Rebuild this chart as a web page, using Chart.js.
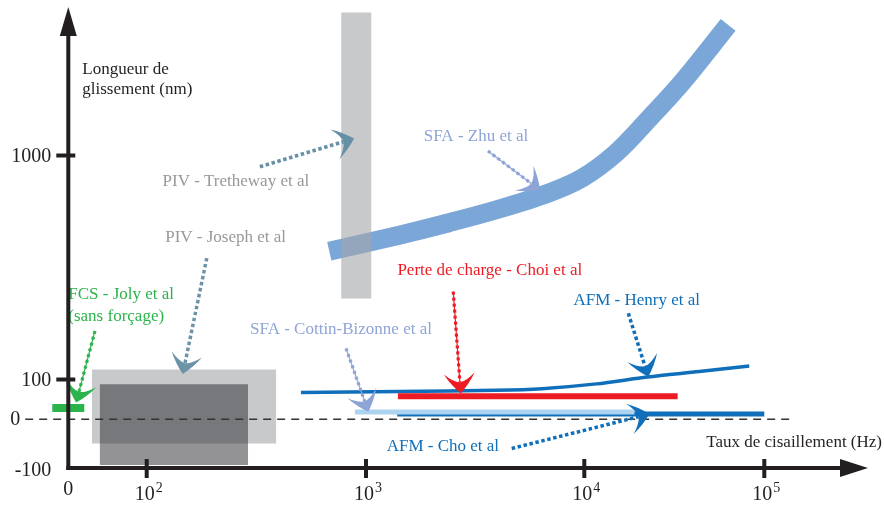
<!DOCTYPE html>
<html>
<head>
<meta charset="utf-8">
<script src="https://cdn.jsdelivr.net/npm/chart.js@4.4.1/dist/chart.umd.min.js"></script>
<style>
html,body{margin:0;padding:0;background:#fff;}
#wrap{width:884px;height:509px;position:relative;}
</style>
</head>
<body>
<div id="wrap"><canvas id="c" width="884" height="509"></canvas></div>
<script>
// ---------------- data (shear rate in Hz, slip length in nm) ----------------
const xTickValues = [0, 100, 1000, 10000, 100000];
const xTickLabels = ['0', '10^2', '10^3', '10^4', '10^5'];
const yTickValues = [-100, 0, 100, 1000];
const yTickLabels = ['-100', '0', '100', '1000'];
const yTickMarks = [100, 1000];
const xTickMarks = [100, 1000, 10000, 100000];

const zhuX = [680, 1420, 2400, 4070, 6900, 9800, 15000, 23000, 35000, 63000];
const zhuY = [615, 680, 730, 785, 850, 910, 1010, 1150, 1295, 1525];
const henryX = [505, 1420, 3950, 6400, 11700, 22400, 43500, 82500];
const henryY = [67, 70, 73, 77, 89, 110, 132, 154];
const choiX = [1400, 33000];
const choiY = [58, 58];
const choX = [1390, 100000];
const choY = [13, 13];
const cottinX = [890, 19000];
const cottinY = [18, 18];
const jolyX = [0];
const jolyY = [28];
const trethewayX = [770, 1060];   // rate range
const trethewayY = [425, 1575];   // slip range
const josephOuterX = [30, 390];
const josephOuterY = [-50, 140];
const josephInnerX = [40, 290];
const josephInnerY = [-94, 88];
const zeroLineX = [-55, 148000];
const zeroLineY = [0, 0];

const xTitle = 'Taux de cisaillement (Hz)';
const yTitle = ['Longueur de', 'glissement (nm)'];

const GREY = '#97989a', LAV = '#8fa4d6', GREEN = '#2cb34b', RED = '#ed1c24', BLUE = '#0f6fba';
const notes = [
  {lines: ['PIV - Tretheway et al'], at: [255, 895], color: GREY,
   arrow: {from: [328, 955], to: [882, 1068], color: '#6690a5', thread: false}},
  {lines: ['SFA - Zhu et al'], at: [3190, 1078], color: LAV,
   arrow: {from: [3620, 1018], to: [6270, 861], color: LAV, thread: true}},
  {lines: ['PIV - Joseph et al'], at: [229, 670], color: GREY,
   arrow: {from: [188, 588], to: [146, 122], color: '#6c93a7', thread: false}},
  {lines: ['FCS - Joly et al', '(sans forçage)'], at: [0, 440], color: GREEN, align: 'left',
   arrow: {from: [34, 295], to: [10, 42], color: GREEN, thread: true}},
  {lines: ['SFA - Cottin-Bizonne et al'], at: [769, 299], color: LAV,
   arrow: {from: [811, 225], to: [1025, 19], color: LAV, thread: true}},
  {lines: ['Perte de charge - Choi et al'], at: [3690, 537], color: RED,
   arrow: {from: [2510, 453], to: [2716, 65], color: RED, thread: true}},
  {lines: ['AFM - Henry et al'], at: [19550, 417], color: BLUE,
   arrow: {from: [17560, 366], to: [22680, 111], color: BLUE, thread: false}},
  {lines: ['AFM - Cho et al'], at: [2250, -57], color: BLUE,
   arrow: {from: [4650, -60], to: [22970, 13], color: BLUE, thread: false}}
];

// ---------------- piecewise (broken / schematic) scale ----------------
const KNOTS = {
  x: [[0, 0.000375], [1, 0.098375], [2, 0.3725], [3, 0.645375], [4, 0.870375]],
  y: [[-100, 0], [0, 0.10586], [100, 0.19197], [1000, 0.67787]]
};
function hzT(v) { return v <= 100 ? v / 100 : 1 + Math.log10(v / 100); }
function hzInv(t) { return t <= 1 ? t * 100 : 100 * Math.pow(10, t - 1); }
function interp(k, t) {
  let i = 0;
  if (t >= k[k.length - 1][0]) i = k.length - 2;
  else if (t > k[0][0]) { while (t > k[i + 1][0]) i++; }
  const t0 = k[i][0], f0 = k[i][1], t1 = k[i + 1][0], f1 = k[i + 1][1];
  return f0 + (t - t0) * (f1 - f0) / (t1 - t0);
}
function invInterp(k, f) {
  let i = 0;
  if (f >= k[k.length - 1][1]) i = k.length - 2;
  else if (f > k[0][1]) { while (f > k[i + 1][1]) i++; }
  const t0 = k[i][0], f0 = k[i][1], t1 = k[i + 1][0], f1 = k[i + 1][1];
  return t0 + (f - f0) * (t1 - t0) / (f1 - f0);
}
class PiecewiseScale extends Chart.LinearScale {
  static id = 'piecewise';
  static defaults = {};
  getPixelForValue(v) {
    const t = this.axis === 'x' ? hzT(v) : v;
    return this.getPixelForDecimal(interp(KNOTS[this.axis], t));
  }
  getValueForPixel(p) {
    const t = invInterp(KNOTS[this.axis], this.getDecimalForPixel(p));
    return this.axis === 'x' ? hzInv(t) : t;
  }
}
Chart.register(PiecewiseScale);

// ---------------- helpers ----------------
const pts = (xs, ys) => xs.map((x, i) => ({x, y: ys[i]}));
const FONT = '"Liberation Serif", "Times New Roman", serif';
const AXIS = '#231f20';

function strokeLine(ctx, a, b) { ctx.beginPath(); ctx.moveTo(a[0], a[1]); ctx.lineTo(b[0], b[1]); ctx.stroke(); }

function drawArrow(ctx, tail, tip, color, thread) {
  const L = 20, W = 15.5, N = 11;
  let dx = tip[0] - tail[0], dy = tip[1] - tail[1];
  const len = Math.hypot(dx, dy); dx /= len; dy /= len;
  const nx = -dy, ny = dx;
  const notch = [tip[0] - N * dx, tip[1] - N * dy];
  ctx.save();
  ctx.strokeStyle = color;
  ctx.lineCap = 'butt';
  if (thread) {
    ctx.lineWidth = 1.2; ctx.setLineDash([]);
    strokeLine(ctx, tail, notch);
    ctx.lineWidth = 3.2; ctx.setLineDash([3, 3]);
  } else {
    ctx.lineWidth = 3.5; ctx.setLineDash([3.5, 2.6]);
  }
  strokeLine(ctx, tail, notch);
  ctx.setLineDash([]);
  const w1 = [tip[0] - L * dx + W * nx, tip[1] - L * dy + W * ny];
  const w2 = [tip[0] - L * dx - W * nx, tip[1] - L * dy - W * ny];
  const m = (L + N) / 2 - 4;
  ctx.fillStyle = color;
  ctx.beginPath();
  ctx.moveTo(tip[0], tip[1]);
  ctx.quadraticCurveTo(tip[0] - 0.45 * L * dx + 0.6 * W * nx, tip[1] - 0.45 * L * dy + 0.6 * W * ny, w1[0], w1[1]);
  ctx.quadraticCurveTo(tip[0] - m * dx + W * 0.4 * nx, tip[1] - m * dy + W * 0.4 * ny, notch[0], notch[1]);
  ctx.quadraticCurveTo(tip[0] - m * dx - W * 0.4 * nx, tip[1] - m * dy - W * 0.4 * ny, w2[0], w2[1]);
  ctx.quadraticCurveTo(tip[0] - 0.45 * L * dx - 0.6 * W * nx, tip[1] - 0.45 * L * dy - 0.6 * W * ny, tip[0], tip[1]);
  ctx.closePath();
  ctx.fill();
  ctx.restore();
}

const decor = {
  id: 'decor',
  afterDatasetsDraw(chart) {
    const {ctx, chartArea: ca} = chart;
    const x = chart.scales.x, y = chart.scales.y;
    const ox = x.getPixelForValue(0);
    const oy = y.getPixelForValue(-100);
    ctx.save();

    // annotations
    ctx.textBaseline = 'middle';
    for (const n of notes) {
      const px = x.getPixelForValue(n.at[0]), py = y.getPixelForValue(n.at[1]);
      ctx.font = '17px ' + FONT;
      ctx.fillStyle = n.color;
      ctx.textAlign = n.align || 'center';
      n.lines.forEach((s, i) => ctx.fillText(s, px, py + i * 21.5));
      const a = n.arrow;
      drawArrow(ctx,
        [x.getPixelForValue(a.from[0]), y.getPixelForValue(a.from[1])],
        [x.getPixelForValue(a.to[0]), y.getPixelForValue(a.to[1])],
        a.color, a.thread);
    }

    // axes
    ctx.strokeStyle = AXIS; ctx.fillStyle = AXIS; ctx.lineWidth = 4; ctx.lineCap = 'butt';
    strokeLine(ctx, [ox, oy + 2], [ox, ca.top + 24]);
    ctx.beginPath(); ctx.moveTo(ox, ca.top); ctx.lineTo(ox - 8.5, ca.top + 29); ctx.lineTo(ox + 8.5, ca.top + 29); ctx.closePath(); ctx.fill();
    strokeLine(ctx, [ox - 2, oy], [ca.right - 24, oy]);
    ctx.beginPath(); ctx.moveTo(ca.right, oy); ctx.lineTo(ca.right - 28, oy - 9); ctx.lineTo(ca.right - 28, oy + 9); ctx.closePath(); ctx.fill();

    // tick marks
    for (const v of yTickMarks) { const py = y.getPixelForValue(v); strokeLine(ctx, [ox - 12, py], [ox + 7, py]); }
    for (const v of xTickMarks) { const px = x.getPixelForValue(v); strokeLine(ctx, [px, oy - 9], [px, oy + 10]); }

    // y tick labels
    ctx.font = '20px ' + FONT; ctx.textAlign = 'right'; ctx.textBaseline = 'middle';
    const zeroStart = x.getPixelForValue(zeroLineX[0]);
    yTickValues.forEach((v, i) => {
      const py = y.getPixelForValue(v);
      const rx = v === 0 ? zeroStart - 5 : ox - 17;
      ctx.fillText(yTickLabels[i], rx, py + (v === -100 ? 3 : 1));
    });

    // x tick labels (with superscript exponents)
    xTickValues.forEach((v, i) => {
      const px = x.getPixelForValue(v);
      const parts = xTickLabels[i].split('^');
      if (parts.length === 1) {
        ctx.font = '20px ' + FONT; ctx.textAlign = 'center';
        ctx.fillText(parts[0], px, oy + 22);
      } else {
        ctx.font = '20px ' + FONT; ctx.textAlign = 'center';
        ctx.fillText(parts[0], px - 2, oy + 27);
        const w = ctx.measureText(parts[0]).width;
        ctx.font = '14px ' + FONT; ctx.textAlign = 'left';
        ctx.fillText(parts[1], px - 2 + w / 2 + 1, oy + 20);
      }
    });

    // axis titles
    ctx.font = '17px ' + FONT; ctx.fillStyle = AXIS; ctx.textAlign = 'left';
    yTitle.forEach((s, i) => ctx.fillText(s, ox + 14, ca.top + 63 + i * 20));
    ctx.textAlign = 'right';
    ctx.fillText(xTitle, ca.right + 14, oy - 25);
    ctx.restore();
  }
};

const noPts = {pointRadius: 0, pointHoverRadius: 0};
new Chart(document.getElementById('c'), {
  type: 'line',
  data: {
    datasets: [
      Object.assign({label: 'SFA - Zhu et al', data: pts(zhuX, zhuY), borderColor: '#7ba7d8',
        borderWidth: 19, borderCapStyle: 'butt', tension: 0.35, fill: false, order: 12}, noPts),
      Object.assign({label: 'PIV - Tretheway et al', data: pts(trethewayX, [trethewayY[1], trethewayY[1]]),
        borderColor: 'transparent', borderWidth: 0, backgroundColor: 'rgba(164,165,168,0.6)',
        fill: {value: trethewayY[0]}, order: 11}, noPts),
      Object.assign({label: 'PIV - Joseph et al (outer)', data: pts(josephOuterX, [josephOuterY[1], josephOuterY[1]]),
        borderColor: 'transparent', borderWidth: 0, backgroundColor: 'rgba(160,162,166,0.58)',
        fill: {value: josephOuterY[0]}, order: 10}, noPts),
      Object.assign({label: 'PIV - Joseph et al (inner)', data: pts(josephInnerX, [josephInnerY[1], josephInnerY[1]]),
        borderColor: 'transparent', borderWidth: 0, backgroundColor: 'rgba(40,40,46,0.5)',
        fill: {value: josephInnerY[0]}, order: 9}, noPts),
      Object.assign({label: 'zero', data: pts(zeroLineX, zeroLineY), borderColor: '#333333',
        borderWidth: 1.5, borderDash: [8, 6], fill: false, clip: false, order: 8}, noPts),
      Object.assign({label: 'AFM - Henry et al', data: pts(henryX, henryY), borderColor: BLUE,
        borderWidth: 3.5, tension: 0.3, fill: false, order: 7}, noPts),
      Object.assign({label: 'Perte de charge - Choi et al', data: pts(choiX, choiY), borderColor: RED,
        borderWidth: 6, borderCapStyle: 'butt', fill: false, order: 6}, noPts),
      Object.assign({label: 'AFM - Cho et al', data: pts(choX, choY), borderColor: BLUE,
        borderWidth: 5, borderCapStyle: 'butt', fill: false, order: 5}, noPts),
      Object.assign({label: 'SFA - Cottin-Bizonne et al', data: pts(cottinX, cottinY), borderColor: '#acd3ef',
        borderWidth: 5, borderCapStyle: 'butt', fill: false, order: 4}, noPts),
      {label: 'FCS - Joly et al', data: pts(jolyX, jolyY), showLine: false, pointStyle: 'line',
        pointRadius: 16, pointHoverRadius: 16, pointBorderWidth: 8, pointBorderColor: GREEN,
        borderColor: GREEN, clip: false, order: 3}
    ]
  },
  options: {
    responsive: false,
    animation: false,
    events: [],
    layout: {autoPadding: false, padding: {left: 68, right: 16, top: 7, bottom: 41}},
    plugins: {legend: {display: false}, tooltip: {enabled: false}},
    scales: {
      x: {type: 'piecewise', min: -100, max: 400000, display: false},
      y: {type: 'piecewise', min: -100, max: 1600, display: false}
    }
  },
  plugins: [decor]
});
</script>
</body>
</html>
